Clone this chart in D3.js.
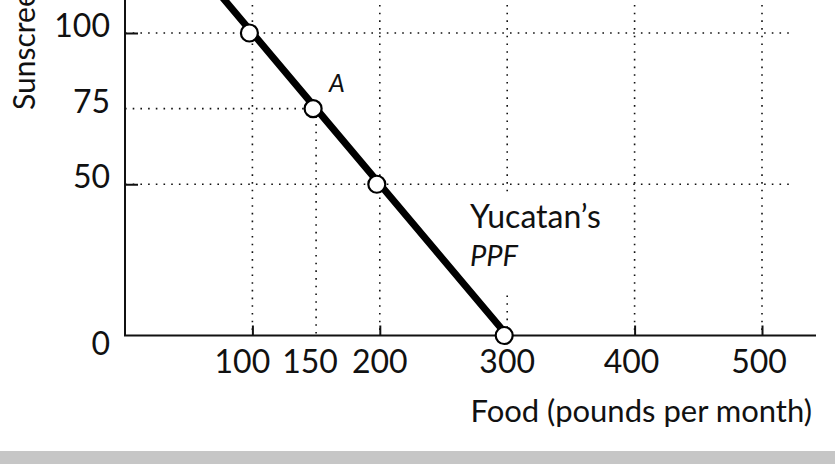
<!DOCTYPE html>
<html>
<head>
<meta charset="utf-8">
<script src="https://cdn.jsdelivr.net/npm/d3@7"></script>
<style>
  html, body { margin: 0; padding: 0; background: #fff; }
  svg { display: block; }
  text { font-family: Lato, "Noto Sans", sans-serif; fill: #111; }
</style>
</head>
<body>
<div id="chart"></div>
<script>
// ---- data ----
const foodTicks = [100, 150, 200, 300, 400, 500];
const sunscreenTicks = [0, 50, 75, 100];
const ppfFood = [0, 100, 150, 200, 300];
const ppfSunscreen = [150, 100, 75, 50, 0];
const markedFood = [100, 150, 200, 300];
const markedSunscreen = [100, 75, 50, 0];
const xTitle = "Food (pounds per month)";
const yTitle = "Sunscreen (bottles per month)";

const W = 835, H = 464;
const svg = d3.select("#chart").append("svg").attr("width", W).attr("height", H);

const x = d3.scaleLinear().domain([0, 500]).range([125, 762]);
const y = d3.scaleLinear().domain([0, 100]).range([335.5, 33]);
const xEnd = 816, gridRight = 793;

// bottom gray band
svg.append("rect").attr("x", 0).attr("y", 451).attr("width", W).attr("height", H - 451).attr("fill", "#c6c6c6");

const dot = "1.6,6.1";
const grid = svg.append("g").attr("stroke", "#111").attr("stroke-width", 1.6).attr("stroke-dasharray", dot).attr("fill", "none");

// vertical grid lines
const vTop = { 100: y(150), 150: y(75), 200: y(150), 300: y(150), 400: y(150), 500: y(150) };
foodTicks.forEach(f => {
  if (f === 300) {
    grid.append("line").attr("x1", x(f)).attr("x2", x(f)).attr("y1", y(150)).attr("y2", y(50) + 11);
    grid.append("line").attr("x1", x(f)).attr("x2", x(f)).attr("y1", y(0) - 40).attr("y2", y(0));
  } else {
    grid.append("line").attr("x1", x(f)).attr("x2", x(f)).attr("y1", vTop[f]).attr("y2", y(0));
  }
});
// horizontal grid lines
grid.append("line").attr("x1", x(0)).attr("x2", gridRight).attr("y1", y(100)).attr("y2", y(100));
grid.append("line").attr("x1", x(0)).attr("x2", x(150)).attr("y1", y(75)).attr("y2", y(75));
grid.append("line").attr("x1", x(0)).attr("x2", gridRight).attr("y1", y(50)).attr("y2", y(50));

// axes (ticks pointing inward)
const xAxis = d3.axisBottom(x).tickValues([100, 200, 400, 500]).tickSizeInner(-10).tickSizeOuter(0).tickFormat("");
const gx = svg.append("g").attr("transform", `translate(0,${y(0)})`).call(xAxis);
gx.select(".domain").attr("d", `M${x(0) - 1},0H${xEnd}`);
const yAxis = d3.axisLeft(y).tickValues([50, 100]).tickSizeInner(-13).tickSizeOuter(0).tickFormat("");
const gy = svg.append("g").attr("transform", `translate(${x(0)},0)`).call(yAxis);
gy.select(".domain").attr("d", `M0,${y(0)}V-5`);
svg.selectAll(".domain, .tick line").attr("stroke", "#111").attr("stroke-width", 2);

// tick labels (crowded labels nudged left as in the original)
const nudge = d => d === 100 ? -10 : d === 150 ? -6 : d >= 400 ? -3 : 0;
svg.append("g").selectAll("text").data(foodTicks).join("text")
  .attr("x", d => x(d) + nudge(d)).attr("y", 373).attr("text-anchor", "middle")
  .attr("font-size", 32).text(d => d);
svg.append("g").selectAll("text").data(sunscreenTicks).join("text")
  .attr("x", 110).attr("y", d => d === 0 ? 355 : y(d) + 4).attr("text-anchor", "end")
  .attr("font-size", 32).text(d => d);

// axis titles
svg.append("text").attr("x", 812).attr("y", 422).attr("text-anchor", "end")
  .attr("font-size", 31).text(xTitle);
svg.append("text").attr("transform", "translate(35,110) rotate(-90)")
  .attr("font-size", 30).text(yTitle);

// PPF line
const pts = ppfFood.map((f, i) => [f, ppfSunscreen[i]]);
svg.append("path").datum(pts)
  .attr("d", d3.line().x(d => x(d[0])).y(d => y(d[1])))
  .attr("fill", "none").attr("stroke", "#000").attr("stroke-width", 7);

// points
svg.append("g").selectAll("circle").data(markedFood.map((f, i) => [f, markedSunscreen[i]])).join("circle")
  .attr("cx", d => x(d[0]) - 3).attr("cy", d => y(d[1]))
  .attr("r", 8.5).attr("fill", "#fff").attr("stroke", "#000").attr("stroke-width", 2.2);

// labels
svg.append("text").attr("x", x(150) + 13).attr("y", y(75) - 17)
  .attr("font-size", 25).attr("font-style", "italic").text("A");
svg.append("text").attr("x", 470).attr("y", 228).attr("font-size", 32).text("Yucatan’s");
svg.append("text").attr("x", 470).attr("y", 266).attr("font-size", 29).attr("font-style", "italic").text("PPF");
</script>
</body>
</html>
